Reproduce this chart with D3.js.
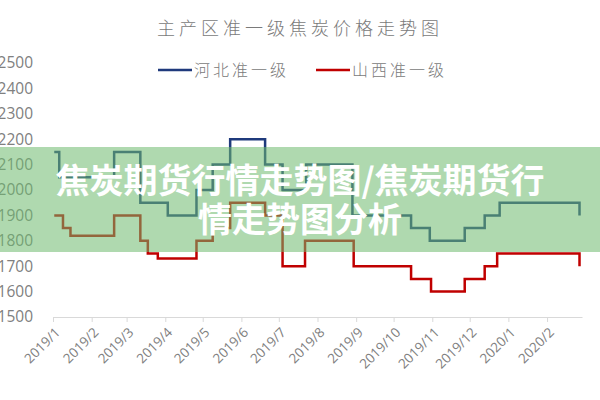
<!DOCTYPE html>
<html>
<head>
<meta charset="utf-8">
<script src="https://cdn.jsdelivr.net/npm/d3@7"></script>
<style>
  body { margin: 0; background: #fff; }
  svg { display: block; }
</style>
</head>
<body>
<div id="chart"></div>
<script>
// step points: each value holds from its date until the next date
const hebeiDates = ['2019-01-02', '2019-01-06', '2019-02-19', '2019-03-12', '2019-04-03', '2019-04-26',
  '2019-05-09', '2019-05-23', '2019-06-20', '2019-07-04', '2019-07-23', '2019-08-29', '2019-10-15',
  '2019-10-30', '2019-11-27', '2019-12-13', '2019-12-25', '2020-02-27'];
const hebeiValues = [2150, 2050, 2150, 1950, 1900, 2000, 2100, 2200, 2100, 2000, 2100, 1900, 1850,
  1800, 1850, 1900, 1950, 1900];

const shanxiDates = ['2019-01-02', '2019-01-09', '2019-01-15', '2019-02-19', '2019-03-12', '2019-03-18',
  '2019-03-26', '2019-04-26', '2019-05-09', '2019-05-23', '2019-06-20', '2019-07-04', '2019-07-22',
  '2019-08-30', '2019-10-15', '2019-10-31', '2019-11-27', '2019-12-13', '2019-12-23', '2020-02-27'];
const shanxiValues = [1900, 1850, 1820, 1900, 1800, 1750, 1730, 1800, 1850, 1950, 1900, 1700, 1800,
  1700, 1650, 1600, 1650, 1700, 1750, 1700];

const seriesNames = ['河北准一级', '山西准一级'];
const seriesColors = ['#1f3a7c', '#c00000'];
const yTicks = [1500, 1600, 1700, 1800, 1900, 2000, 2100, 2200, 2300, 2400, 2500];

const title = '主产区准一级焦炭价格走势图';
const bannerLines = ['焦炭期货行情走势图/焦炭期货行', '情走势图分析'];

const width = 600, height = 400;
const parse = d3.timeParse('%Y-%m-%d');

const svg = d3.select('#chart').append('svg')
    .attr('width', width)
    .attr('height', height);

const x = d3.scaleTime()
    .domain([parse('2019-01-01'), parse('2020-02-29')])
    .range([53, 582]);
const y = d3.scaleLinear().domain([1500, 2500]).range([317, 63]);

// title
svg.append('text')
    .attr('x', 300)
    .attr('y', 35)
    .attr('text-anchor', 'middle')
    .style('font-family', '"Noto Sans CJK SC", sans-serif')
    .style('font-size', '18px')
    .style('font-weight', 300)
    .style('letter-spacing', '4px')
    .attr('fill', '#7a7a7a')
    .text(title);

// legend
const legendX = [158, 316];
seriesNames.forEach((name, i) => {
    const g = svg.append('g').attr('transform', 'translate(' + legendX[i] + ',70)');
    g.append('line')
        .attr('x1', 0).attr('x2', 34)
        .attr('stroke', seriesColors[i])
        .attr('stroke-width', 2.5);
    g.append('text')
        .attr('x', 36)
        .attr('y', 6)
        .style('font-family', '"Noto Sans CJK SC", sans-serif')
        .style('font-size', '16px')
        .style('font-weight', 300)
        .style('letter-spacing', '3px')
        .attr('fill', '#7a7a7a')
        .text(name);
});

// y axis labels (no line)
const yAxis = svg.append('g')
    .attr('transform', 'translate(33,0)')
    .call(d3.axisLeft(y).tickValues(yTicks).tickFormat(d3.format('d')).tickSize(0).tickPadding(0));
yAxis.select('.domain').remove();
yAxis.selectAll('text')
    .attr('fill', '#808080')
    .style('font-family', '"Open Sans", sans-serif')
    .style('font-size', '15.5px');

// x axis
const xAxis = svg.append('g')
    .attr('transform', 'translate(0,317)')
    .call(d3.axisBottom(x).ticks(d3.timeMonth.every(1)).tickFormat(d3.timeFormat('%Y/%-m'))
        .tickSizeInner(5).tickSizeOuter(0));
xAxis.select('.domain').attr('stroke', '#d9d9d9');
xAxis.selectAll('line').attr('stroke', '#d9d9d9');
xAxis.selectAll('text')
    .attr('y', 0)
    .attr('dy', '0.35em')
    .attr('text-anchor', 'end')
    .attr('transform', 'translate(4,13) rotate(-45)')
    .attr('fill', '#808080')
    .style('font-family', '"Open Sans", sans-serif')
    .style('font-size', '13.5px');

// lines
const line = d3.line()
    .x(d => x(d.date))
    .y(d => y(d.value))
    .curve(d3.curveStepAfter);

const series = [
    hebeiDates.map((d, i) => ({date: parse(d), value: hebeiValues[i]})),
    shanxiDates.map((d, i) => ({date: parse(d), value: shanxiValues[i]}))
];

series.forEach((data, i) => {
    svg.append('path')
        .datum(data)
        .attr('fill', 'none')
        .attr('stroke', seriesColors[i])
        .attr('stroke-width', 2.5)
        .attr('d', line);
});

// green banner over the chart
svg.append('rect')
    .attr('x', 0).attr('y', 147)
    .attr('width', width).attr('height', 105)
    .attr('fill', 'rgb(110,185,110)')
    .attr('fill-opacity', 0.55);

bannerLines.forEach((t, i) => {
    svg.append('text')
        .attr('x', 300)
        .attr('y', 193 + i * 39)
        .attr('text-anchor', 'middle')
        .style('font-family', '"Noto Sans CJK SC", sans-serif')
        .style('font-size', '34px')
        .style('font-weight', 700)
        .attr('fill', '#fff')
        .text(t);
});
</script>
</body>
</html>
